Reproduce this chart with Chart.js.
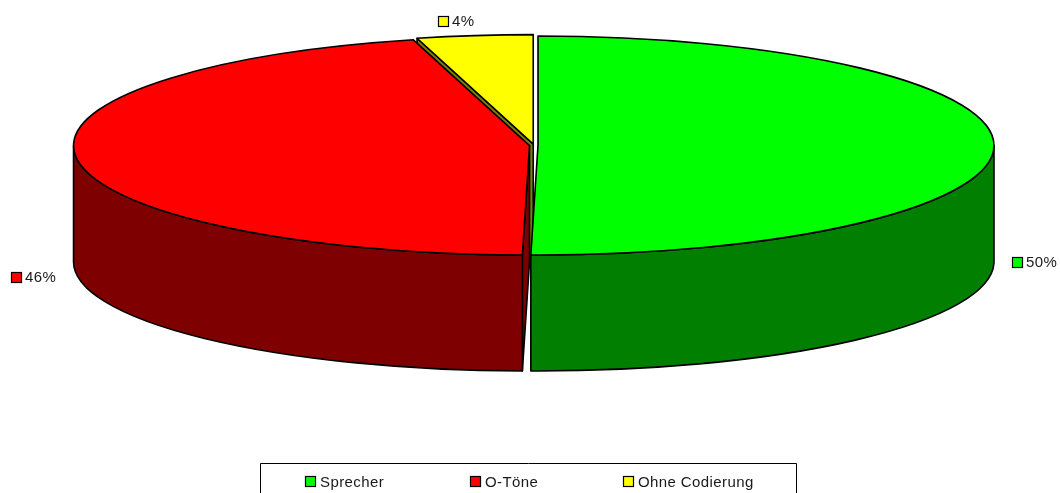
<!DOCTYPE html>
<html lang="de">
<head>
    <meta charset="UTF-8">
    <title>Sprecher / O-Töne</title>
    <script src="https://cdn.jsdelivr.net/npm/chart.js@4/dist/chart.umd.js"></script>
    <style>
        html, body { margin: 0; padding: 0; background: #fff; overflow: hidden; }
        canvas { display: block; }
    </style>
</head>
<body>
    <canvas id="pie" width="1060" height="493"></canvas>

    <script>
        const categories = ['Sprecher', 'O-Töne', 'Ohne Codierung'];
        const shares = [50.25, 45.65, 4.1];
        const shareLabels = ['50%', '46%', '4%'];
        const topColors = ['#00ff00', '#ff0000', '#ffff00'];
        const sideColors = ['#007f00', '#7f0000', '#7f7f00'];
        const explode = [4, 4.5, 6];

        const squash = 0.24;   // flattens the circle into the tilted ellipse
        const depth = 116;     // height of the pie wall
        const font = '15px "Liberation Sans", Arial, sans-serif';

        function marker(ctx, x, y, color) {
            ctx.fillStyle = color;
            ctx.strokeStyle = '#000';
            ctx.lineWidth = 1.2;
            ctx.fillRect(x + 0.5, y + 0.5, 10, 10);
            ctx.strokeRect(x + 0.5, y + 0.5, 10, 10);
        }

        function drawSlice(ctx, arc, top, side) {
            const { x, y, startAngle: s, endAngle: e, outerRadius: r } = arc;
            const mid = (s + e) / 2;
            const cx = x + Math.cos(mid) * arc.options.offset;
            const cy = y + Math.sin(mid) * arc.options.offset * squash;
            const ry = r * squash;

            ctx.lineWidth = 1.6;
            ctx.lineJoin = 'round';
            ctx.strokeStyle = '#000';

            // cut faces, only those that look towards the viewer
            ctx.fillStyle = side;
            [s, e].forEach((a, i) => {
                const visible = i === 0 ? Math.cos(a) < -1e-6 : Math.cos(a) > 1e-6;
                if (!visible) return;
                const rimX = cx + Math.cos(a) * r;
                const rimY = cy + Math.sin(a) * ry;
                ctx.beginPath();
                ctx.moveTo(cx, cy);
                ctx.lineTo(cx, cy + depth);
                ctx.lineTo(rimX, rimY + depth);
                ctx.lineTo(rimX, rimY);
                ctx.closePath();
                ctx.fill();
                ctx.stroke();
            });

            // outer wall, only the front half can be seen
            const from = Math.max(s, 0);
            const to = Math.min(e, Math.PI);
            if (to > from) {
                ctx.beginPath();
                ctx.ellipse(cx, cy, r, ry, 0, from, to);
                ctx.ellipse(cx, cy + depth, r, ry, 0, to, from, true);
                ctx.closePath();
                ctx.fill();
                ctx.stroke();
            }

            // top face
            ctx.fillStyle = top;
            ctx.beginPath();
            ctx.moveTo(cx, cy);
            ctx.ellipse(cx, cy, r, ry, 0, s, e);
            ctx.closePath();
            ctx.fill();
            ctx.stroke();
        }

        const pie3d = {
            id: 'pie3d',
            beforeDatasetsDraw(chart) {
                const ctx = chart.ctx;
                const arcs = chart.getDatasetMeta(0).data;
                ctx.save();
                // back to front
                for (let i = arcs.length - 1; i >= 0; i--) {
                    drawSlice(ctx, arcs[i], topColors[i], sideColors[i]);
                }
                ctx.restore();
                return false;
            },
            afterDraw(chart) {
                const ctx = chart.ctx;
                ctx.save();
                ctx.font = font;
                ctx.letterSpacing = '0.4px';
                ctx.textBaseline = 'middle';

                // value labels beside the pie
                const labelSpots = [[1012, 257], [11, 272], [438, 16]];
                shareLabels.forEach((text, i) => {
                    const [mx, my] = labelSpots[i];
                    marker(ctx, mx, my, topColors[i]);
                    ctx.fillStyle = '#1a1a1a';
                    ctx.fillText(text, mx + 14, my + 6);
                });

                // legend box runs off the bottom of the picture
                ctx.strokeStyle = '#000';
                ctx.lineWidth = 1;
                ctx.beginPath();
                ctx.moveTo(260.5, 493);
                ctx.lineTo(260.5, 463.5);
                ctx.lineTo(796.5, 463.5);
                ctx.lineTo(796.5, 493);
                ctx.stroke();

                const legendX = [305, 470, 623];
                chart.data.labels.forEach((text, i) => {
                    marker(ctx, legendX[i], 476, topColors[i]);
                    ctx.fillStyle = '#1a1a1a';
                    ctx.fillText(text, legendX[i] + 15, 483);
                });
                ctx.restore();
            }
        };

        new Chart(document.getElementById('pie'), {
            type: 'pie',
            data: {
                labels: categories,
                datasets: [{
                    data: shares,
                    backgroundColor: topColors,
                    borderWidth: 0,
                    offset: explode
                }]
            },
            options: {
                responsive: false,
                animation: false,
                radius: 456,
                layout: { padding: { left: 8, right: 0, top: 0, bottom: 202 } },
                plugins: { legend: { display: false }, tooltip: { enabled: false } }
            },
            plugins: [pie3d]
        });
    </script>
</body>
</html>
